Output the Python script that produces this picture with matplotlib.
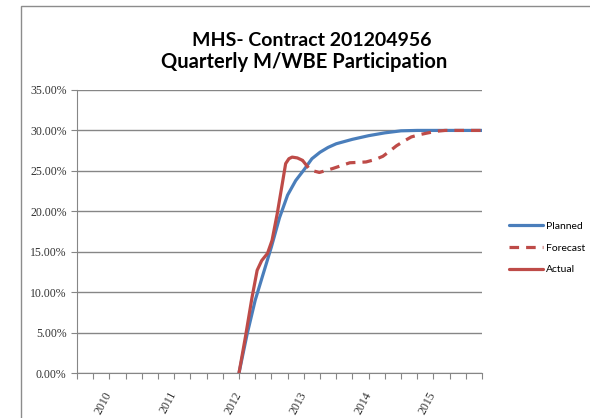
import matplotlib.pyplot as plt
from matplotlib.patches import Rectangle
from matplotlib.ticker import FuncFormatter

# values (year, percent)
planned_x = [2012.0, 2012.125, 2012.25, 2012.375, 2012.5, 2012.625, 2012.75, 2012.875,
             2013.0, 2013.125, 2013.25, 2013.375, 2013.5, 2013.75, 2014.0, 2014.25,
             2014.5, 2014.75, 2015.0, 2015.25, 2015.5, 2015.75]
planned_y = [0.0, 4.8, 9.0, 12.3, 15.6, 19.2, 22.0, 23.8,
             25.1, 26.5, 27.3, 27.9, 28.35, 28.9, 29.35, 29.7,
             29.95, 30.0, 30.0, 30.0, 30.0, 30.0]

actual_x = [2012.0, 2012.1, 2012.2, 2012.28, 2012.35, 2012.44, 2012.51, 2012.59,
            2012.67, 2012.72, 2012.77, 2012.82, 2012.9, 2012.98]
actual_y = [0.0, 4.5, 9.3, 12.7, 13.9, 14.8, 16.4, 19.7,
            23.5, 25.9, 26.5, 26.7, 26.6, 26.3]

forecast_x = [2012.98, 2013.1, 2013.24, 2013.45, 2013.71, 2013.96, 2014.1, 2014.22,
              2014.32, 2014.43, 2014.55, 2014.66, 2014.8, 2014.92, 2015.05, 2015.18, 2015.75]
forecast_y = [26.3, 25.1, 24.8, 25.3, 26.0, 26.1, 26.4, 26.8,
              27.4, 28.1, 28.7, 29.2, 29.5, 29.7, 29.9, 30.0, 30.0]

years = [2010, 2011, 2012, 2013, 2014, 2015]
quarters = [2009.5 + 0.25 * k for k in range(26)]

blue = '#4A7EBB'
red = '#BE4B48'

fig = plt.figure(figsize=(5.9, 4.18), dpi=100)
ax = fig.add_axes([77 / 590, 1 - 373 / 418, 405 / 590, 283 / 418])

# chart border
fig.patches.append(Rectangle((21 / 590, -0.1), 1.2, 1 - 6 / 418 + 0.1,
                             transform=fig.transFigure, fill=False,
                             edgecolor='#8c8c8c', lw=1.0))

style = dict(lw=2.3, solid_joinstyle='round', solid_capstyle='round')
ax.plot(planned_x, planned_y, color=blue, label='Planned', zorder=3, **style)
ax.plot(forecast_x, forecast_y, color=red, lw=2.3, linestyle=(0, (3, 2.2)),
        label='Forecast', zorder=3)
ax.plot(actual_x, actual_y, color=red, label='Actual', zorder=4, **style)

ax.set_xlim(2009.5, 2015.75)
ax.set_ylim(0, 35)
ax.set_yticks(range(0, 36, 5))
ax.yaxis.set_major_formatter(FuncFormatter(lambda v, p: f'{v:.2f}%'))
ax.grid(axis='y', color='#868686', lw=1.0)
ax.set_axisbelow(True)

ax.set_xticks(quarters)
ax.set_xticklabels([str(int(q)) if q in years else '' for q in quarters],
                   rotation=62, ha='right', va='center', rotation_mode='anchor')

for s in ['top', 'right']:
    ax.spines[s].set_visible(False)
for s in ['left', 'bottom']:
    ax.spines[s].set_color('#868686')
ax.tick_params(axis='both', colors='#868686', labelcolor='#333333', length=4)
ax.tick_params(axis='y', labelsize=8.5)
ax.tick_params(axis='x', labelsize=8.5, pad=10)
for lab in ax.get_xticklabels() + ax.get_yticklabels():
    lab.set_family('Liberation Serif')

fig.text(312 / 590, 1 - 41 / 418, 'MHS- Contract 201204956',
         ha='center', va='center', fontsize=14, fontweight='bold', family='Lato')
fig.text(304 / 590, 1 - 62 / 418, 'Quarterly M/WBE Participation',
         ha='center', va='center', fontsize=14.5, fontweight='bold', family='Lato')

fig.legend(loc='center left', bbox_to_anchor=(500 / 590, 1 - 248 / 418),
           frameon=False, handlelength=3.2, handletextpad=0.3,
           labelspacing=1.2, prop={'family': 'Lato', 'size': 7.5})

plt.savefig('out.png', dpi=100)
